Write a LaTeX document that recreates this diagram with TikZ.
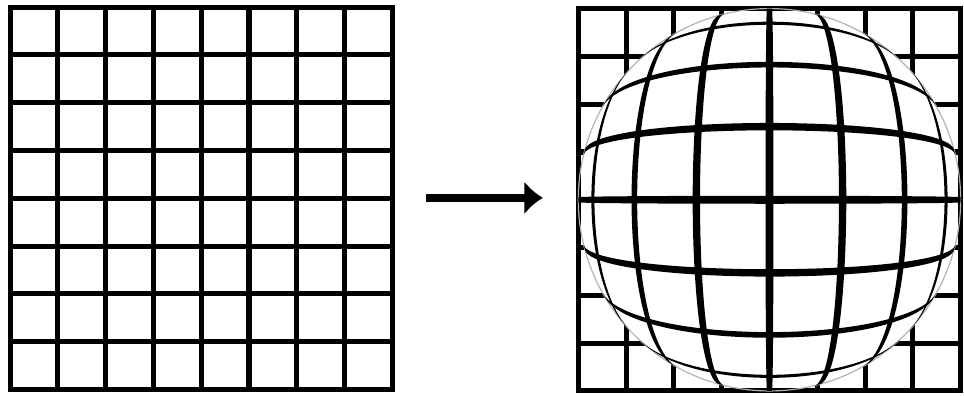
\documentclass[tikz,border=0pt]{standalone}
\usetikzlibrary{arrows.meta}
\begin{document}
\begin{tikzpicture}[>={Latex[length=11pt,width=20pt]}, line cap=rect,
  gridline/.style={line width=3pt},
  rim/.style={gray!60, line width=0.7pt},
  declare function={gain(\r)=4*sin(22.5*\r)/\r;}]

  % frame of the picture
  \useasboundingbox (0,0) rectangle (20.17,8.28);

  % the plain grid
  \draw[gridline, shift={(0.21,0.13)}] (0,0) grid (8,8);

  % the arrow between the two grids
  \coordinate (tail) at (9.0,4.14);
  \coordinate (head) at (11.36,4.14);
  \draw[->, line width=5pt] (tail) -- (head);

  % the warped grid: centre and radius of the lens
  \coordinate (lens) at (16.1,4.1);
  \def\rad{4}
  \def\hw{0.053}

  % straight cells left outside the lens
  \begin{scope}[even odd rule]
    \clip (12.1,0.1) rectangle (20.1,8.1) (lens) circle (\rad);
    \draw[gridline, shift={(12.1,0.1)}] (0,0) grid (8,8);
  \end{scope}
  \draw[gridline] (12.1,0.1) rectangle (20.1,8.1);

  % the rim of the lens
  \draw[rim] (lens) circle (\rad);

  % bulged lines inside the lens, r -> R sin(90 r/R);
  % each line is the image of a thin strip, so it swells and thins as the lens does
  \begin{scope}[shift={(lens)}]
    \foreach \a in {-3,...,3}{
      \pgfmathsetmacro\lo{\a-\hw}
      \pgfmathsetmacro\hi{\a+\hw}
      \pgfmathsetmacro\llo{sqrt(\rad*\rad-\lo*\lo)}
      \pgfmathsetmacro\lhi{sqrt(\rad*\rad-\hi*\hi)}
      % vertical
      \fill plot[domain=-\llo:\llo, samples=61, smooth, variable=\t]
          ({\lo*gain(veclen(\lo,\t))}, {\t*gain(veclen(\lo,\t))})
        -- plot[domain=-\lhi:\lhi, samples=61, smooth, variable=\t]
          ({\hi*gain(veclen(\hi,\t))}, {-\t*gain(veclen(\hi,\t))})
        -- cycle;
      % horizontal
      \fill plot[domain=-\llo:\llo, samples=61, smooth, variable=\t]
          ({\t*gain(veclen(\lo,\t))}, {\lo*gain(veclen(\lo,\t))})
        -- plot[domain=-\lhi:\lhi, samples=61, smooth, variable=\t]
          ({-\t*gain(veclen(\hi,\t))}, {\hi*gain(veclen(\hi,\t))})
        -- cycle;
    }
  \end{scope}

\end{tikzpicture}
\end{document}
